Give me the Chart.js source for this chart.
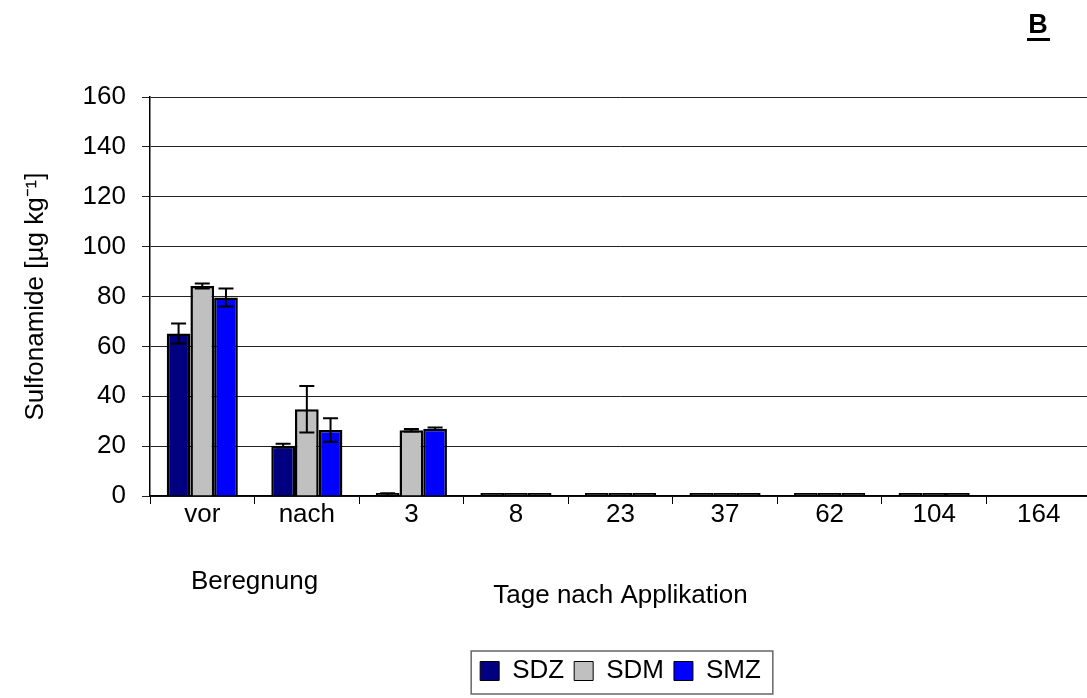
<!DOCTYPE html>
<html>
<head>
    <title>Sulfonamide</title>
    <script src="https://cdn.jsdelivr.net/npm/chart.js@4.4.1/dist/chart.umd.min.js"></script>
    <style>
        html, body { margin: 0; padding: 0; background: #fff; overflow: hidden; }
        #wrap { width: 1100px; height: 698px; }
    </style>
</head>
<body>
    <div id="wrap">
        <canvas id="barChart" width="1100" height="698"></canvas>
    </div>

    <script>
        // categories on the x axis
        const categories = ['vor', 'nach', '3', '8', '23', '37', '62', '104', '164'];

        // mean values (µg/kg)
        const sdzValues = [65.2, 20.2, 0.3, 0.3, 0.3, 0.3, 0.6, 0.3, null];
        const sdmValues = [84.2, 34.8, 26.4, 0.3, 0.3, 0.3, 0.6, 0.3, null];
        const smzValues = [79.6, 26.5, 27.0, 0.3, 0.3, 0.3, 0.3, 0.3, null];

        // standard deviations
        const sdzErrors = [4.0, 0.8, 0.8, 0, 0, 0, 0, 0, 0];
        const sdmErrors = [1.0, 9.3, 0.5, 0, 0, 0, 0, 0, 0];
        const smzErrors = [3.6, 4.7, 0.5, 0, 0, 0, 0, 0, 0];

        const yTicks = [0, 20, 40, 60, 80, 100, 120, 140, 160];

        const fontFamily = '"Liberation Sans", Arial, sans-serif';
        const errors = [sdzErrors, sdmErrors, smzErrors];

        // error bars with caps
        const errorBarPlugin = {
            id: 'errorBars',
            afterDatasetsDraw(chart) {
                const ctx = chart.ctx;
                const y = chart.scales.y;
                ctx.save();
                ctx.strokeStyle = '#000';
                ctx.lineWidth = 2;
                chart.data.datasets.forEach((ds, i) => {
                    const meta = chart.getDatasetMeta(i);
                    meta.data.forEach((bar, j) => {
                        const v = ds.data[j];
                        const e = errors[i][j];
                        if (v == null || !e) return;
                        const top = y.getPixelForValue(v + e);
                        const bottom = y.getPixelForValue(Math.max(v - e, 0));
                        ctx.beginPath();
                        ctx.moveTo(bar.x, top);
                        ctx.lineTo(bar.x, bottom);
                        ctx.moveTo(bar.x - 7.5, top);
                        ctx.lineTo(bar.x + 7.5, top);
                        ctx.moveTo(bar.x - 7.5, bottom);
                        ctx.lineTo(bar.x + 7.5, bottom);
                        ctx.stroke();
                    });
                });
                ctx.restore();
            }
        };

        // extra labels, legend frame and panel letter
        const decorPlugin = {
            id: 'decor',
            afterDraw(chart) {
                const ctx = chart.ctx;
                const x = chart.scales.x;
                ctx.save();
                ctx.fillStyle = '#000';
                ctx.font = '26px ' + fontFamily;
                ctx.textAlign = 'center';
                ctx.textBaseline = 'middle';
                const midFirst = (x.getPixelForValue(0) + x.getPixelForValue(1)) / 2;
                ctx.fillText('Beregnung', midFirst, 582);

                // panel letter
                ctx.font = 'bold 27px ' + fontFamily;
                ctx.textAlign = 'center';
                ctx.fillText('B', 1038, 26);
                ctx.fillRect(1027, 38, 23, 3);

                // legend frame
                const boxes = chart.legend.legendHitBoxes;
                if (boxes && boxes.length) {
                    const left = Math.min(...boxes.map(b => b.left)) - 9;
                    const right = Math.max(...boxes.map(b => b.left + b.width)) + 12;
                    const top = Math.min(...boxes.map(b => b.top)) - 7;
                    const bottom = Math.max(...boxes.map(b => b.top + b.height)) + 10;
                    ctx.strokeStyle = '#666';
                    ctx.lineWidth = 1.5;
                    ctx.strokeRect(left, top, right - left, bottom - top);
                }
                ctx.restore();
            }
        };

        const ctx = document.getElementById('barChart').getContext('2d');

        // near-zero bars show up as plain black dashes in the original
        function barFill(color) {
            return c => (c.raw != null && c.raw < 1 ? '#000' : color);
        }

        const barStyle = { borderColor: '#000', borderWidth: 2.5, borderSkipped: 'start', minBarLength: 3 };

        const myChart = new Chart(ctx, {
            type: 'bar',
            data: {
                labels: categories,
                datasets: [
                    Object.assign({ label: 'SDZ', data: sdzValues, backgroundColor: barFill('#000080'), legendColor: '#000080' }, barStyle),
                    Object.assign({ label: 'SDM', data: sdmValues, backgroundColor: barFill('#C0C0C0'), legendColor: '#C0C0C0' }, barStyle),
                    Object.assign({ label: 'SMZ', data: smzValues, backgroundColor: barFill('#0000FF'), legendColor: '#0000FF' }, barStyle)
                ]
            },
            options: {
                responsive: false,
                animation: false,
                devicePixelRatio: 1,
                layout: { padding: { top: 97, right: 9, bottom: 4, left: 0 } },
                datasets: {
                    bar: { categoryPercentage: 0.68, barPercentage: 1.0 }
                },
                scales: {
                    x: {
                        grid: {
                            offset: true,
                            drawOnChartArea: false,
                            drawTicks: true,
                            tickLength: 8,
                            color: '#000',
                            lineWidth: 1
                        },
                        border: { color: '#000', width: 1.5 },
                        ticks: {
                            color: '#000',
                            font: { family: fontFamily, size: 26 },
                            padding: -5,
                            maxRotation: 0
                        },
                        title: {
                            display: true,
                            text: 'Tage nach Applikation',
                            color: '#000',
                            font: { family: fontFamily, size: 26 },
                            padding: { top: 0, bottom: 37 }
                        },
                        afterFit(scale) { scale.height = 152; }
                    },
                    y: {
                        min: 0,
                        max: 160,
                        afterBuildTicks(scale) {
                            scale.ticks = yTicks.map(v => ({ value: v }));
                        },
                        grid: {
                            color: '#222',
                            lineWidth: 1,
                            tickLength: 8
                        },
                        border: { color: '#000', width: 1.5 },
                        ticks: {
                            color: '#000',
                            font: { family: fontFamily, size: 26 },
                            padding: 16
                        },
                        title: {
                            display: true,
                            text: 'Sulfonamide [µg kg⁻¹]',
                            color: '#000',
                            font: { family: fontFamily, size: 26 },
                            padding: { top: 20, bottom: 0 }
                        },
                        afterFit(scale) { scale.width = 150; }
                    }
                },
                plugins: {
                    legend: {
                        position: 'bottom',
                        fullSize: false,
                        labels: {
                            color: '#000',
                            font: { family: fontFamily, size: 26 },
                            boxWidth: 19,
                            boxHeight: 19,
                            padding: 10,
                            generateLabels(chart) {
                                return chart.data.datasets.map((ds, i) => ({
                                    text: ds.label,
                                    fillStyle: ds.legendColor,
                                    strokeStyle: '#000',
                                    lineWidth: 1,
                                    fontColor: '#000',
                                    datasetIndex: i,
                                    hidden: false
                                }));
                            }
                        }
                    },
                    tooltip: { enabled: false }
                }
            },
            plugins: [errorBarPlugin, decorPlugin]
        });
    </script>
</body>
</html>
